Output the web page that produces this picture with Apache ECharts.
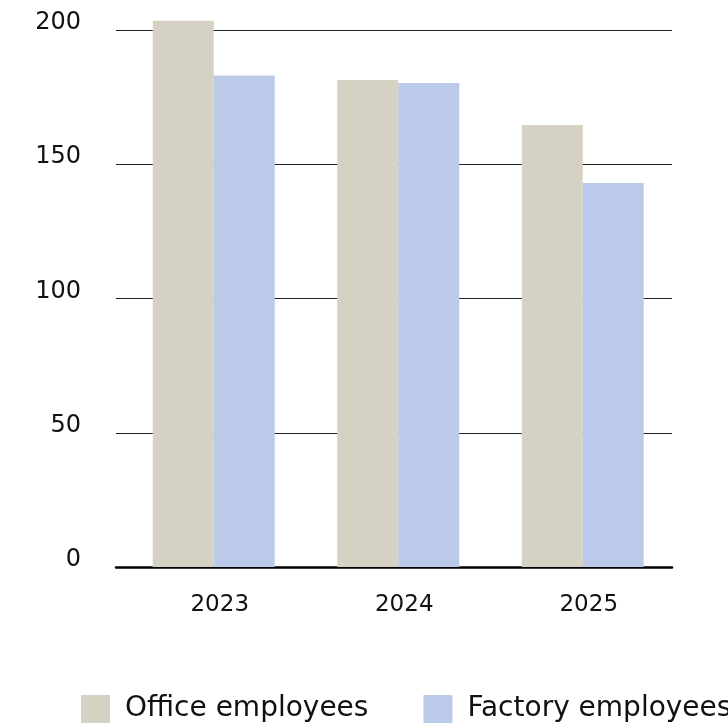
<!DOCTYPE html>
<html>
<head>
<meta charset="utf-8">
<style>
  html, body { margin: 0; padding: 0; background: #ffffff; }
  #chart { width: 728px; height: 727px; }
</style>
<script src="https://cdn.jsdelivr.net/npm/echarts@6/dist/echarts.min.js"></script>
</head>
<body>
<div id="chart"></div>
<script>
// Headcount by year, split by workplace
const years = ['2023', '2024', '2025'];
const officeEmployees = [203.4, 181.4, 164.6];
const factoryEmployees = [183.1, 180.3, 143.0];
const yTicks = { min: 0, max: 200, interval: 50 };

const FONT = 'DejaVu Sans';
const chart = echarts.init(document.getElementById('chart'), null, { renderer: 'canvas' });

chart.setOption({
  backgroundColor: '#ffffff',
  animation: false,
  textStyle: { fontFamily: FONT, color: '#111' },
  legend: {
    left: 76,
    top: 690,
    width: 720,
    icon: 'rect',
    itemWidth: 29,
    itemHeight: 28,
    itemGap: 55,
    textStyle: { fontFamily: FONT, fontSize: 28, color: '#111', padding: [0, 0, 0, 10] },
    data: ['Office employees', 'Factory employees']
  },
  grid: [
    // frame grid: value axis, horizontal rules and baseline
    { left: 116, right: 56, top: 30, bottom: 160, containLabel: false },
    // bar grid
    { left: 121.5, right: 53, top: 30, bottom: 160, containLabel: false }
  ],
  xAxis: [
    {
      gridIndex: 0, type: 'category', data: years,
      axisLine: { show: true, lineStyle: { color: '#000', width: 2.5 } },
      axisTick: { show: false }, axisLabel: { show: false }, splitLine: { show: false }
    },
    {
      gridIndex: 1, type: 'category', data: years,
      axisLine: { show: false }, axisTick: { show: false },
      axisLabel: { fontFamily: FONT, fontSize: 23, color: '#111', margin: 27, padding: [0, 0, 0, 12] }
    }
  ],
  yAxis: [
    {
      gridIndex: 0, type: 'value', min: yTicks.min, max: yTicks.max, interval: yTicks.interval,
      axisLine: { show: false }, axisTick: { show: false },
      axisLabel: {
        fontFamily: FONT, fontSize: 24, color: '#111', margin: 35,
        verticalAlign: 'bottom', lineHeight: 14
      },
      splitLine: { show: true, lineStyle: { color: '#222', width: 1 } }
    },
    {
      gridIndex: 1, type: 'value', min: yTicks.min, max: yTicks.max, interval: yTicks.interval,
      axisLine: { show: false }, axisTick: { show: false }, axisLabel: { show: false },
      splitLine: { show: false }
    }
  ],
  series: [
    {
      name: 'Office employees', type: 'bar', xAxisIndex: 1, yAxisIndex: 1,
      data: officeEmployees, barWidth: 61, barGap: '0%', clip: false,
      itemStyle: { color: '#D5D2C4' }
    },
    {
      name: 'Factory employees', type: 'bar', xAxisIndex: 1, yAxisIndex: 1,
      data: factoryEmployees, barWidth: 61, barGap: '0%', clip: false,
      itemStyle: { color: '#BCCAE9' }
    }
  ]
});
</script>
</body>
</html>
